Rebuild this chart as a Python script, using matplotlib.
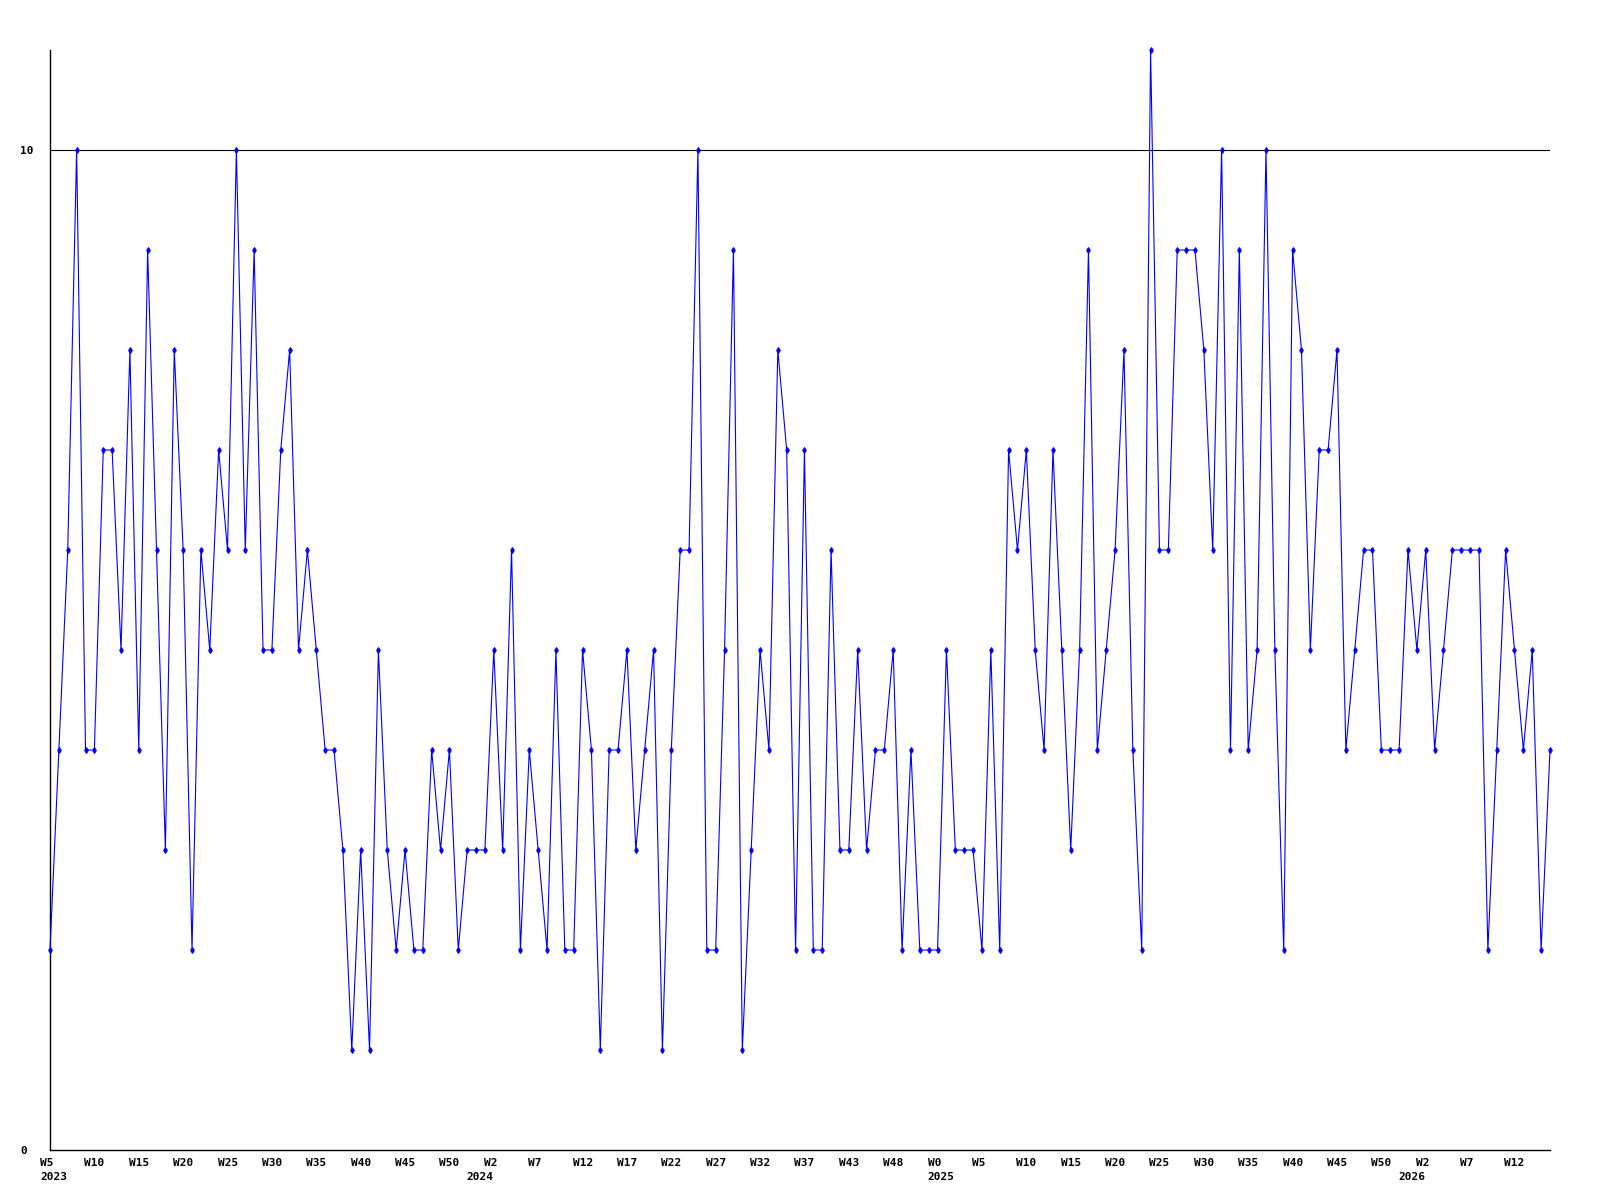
import matplotlib
matplotlib.use('Agg')
import matplotlib.pyplot as plt
import matplotlib.transforms as mtransforms

# weekly values, 2023 W5 .. 2026 W16
values = [
    2, 4, 6, 10, 4, 4, 7, 7, 5, 8, 4, 9, 6, 3, 8, 6, 2, 6, 5, 7, 6, 10,
    6, 9, 5, 5, 7, 8, 5, 6, 5, 4, 4, 3, 1, 3, 1, 5, 3, 2, 3, 2, 2,
    4, 3, 4, 2, 3, 3, 3, 5, 3, 6, 2, 4, 3, 2, 5, 2, 2, 5, 4, 1, 4, 4,
    5, 3, 4, 5, 1, 4, 6, 6, 10, 2, 2, 5, 9, 1, 3, 5, 4, 8, 7, 2, 7,
    2, 2, 6, 3, 3, 5, 3, 4, 4, 5, 2, 4, 2, 2, 2, 5, 3, 3, 3, 2, 5, 2,
    7, 6, 7, 5, 4, 7, 5, 3, 5, 9, 4, 5, 6, 8, 4, 2, 11, 6, 6, 9, 9,
    9, 8, 6, 10, 4, 9, 4, 5, 10, 5, 2, 9, 8, 5, 7, 7, 8, 4, 5, 6, 6,
    4, 4, 4, 6, 5, 6, 4, 5, 6, 6, 6, 6, 2, 4, 6, 5, 4, 5, 2, 4,
]

# labelled weeks (every 5th point)
week_labels = ['W5', 'W10', 'W15', 'W20', 'W25', 'W30', 'W35', 'W40', 'W45', 'W50',
               'W2', 'W7', 'W12', 'W17', 'W22', 'W27', 'W32', 'W37', 'W43', 'W48',
               'W0', 'W5', 'W10', 'W15', 'W20', 'W25', 'W30', 'W35', 'W40', 'W45', 'W50',
               'W2', 'W7', 'W12']
# year labels sit at the first week of each year
years = ['2023', '2024', '2025', '2026']
year_pos = [0, 48, 100, 153]

x = list(range(len(values)))

fig = plt.figure(figsize=(16, 12), dpi=100)
ax = fig.add_axes([50 / 1600, 50 / 1200, 1500 / 1600, 1100 / 1200])

ax.plot(x, values, color='#0000ff', linewidth=0.8, marker='d', markersize=3,
        markeredgewidth=0.8, clip_on=False, zorder=3)

ax.set_xlim(0, len(values) - 1)
ax.set_ylim(0, 11)

# Format axes.
for side in ['top', 'right']:
    ax.spines[side].set_visible(False)
for side in ['left', 'bottom']:
    ax.spines[side].set_color('black')
    ax.spines[side].set_linewidth(1.0)

ax.set_yticks([0, 10])
ax.set_yticklabels(['0', '10'], fontfamily='DejaVu Sans Mono', fontweight='bold',
                   fontsize=8, ha='left')
ax.axhline(10, color='black', linewidth=0.8, zorder=1)

ax.xaxis.remove_overlapping_locs = False
ticks = list(range(0, len(values), 5))
ax.set_xticks(ticks[:len(week_labels)])
ax.set_xticklabels(week_labels, fontfamily='DejaVu Sans Mono', fontweight='bold',
                   fontsize=8, ha='left')
ax.set_xticks(year_pos, minor=True)
ax.set_xticklabels(years, minor=True, fontfamily='DejaVu Sans Mono',
                   fontweight='bold', fontsize=8, ha='left')

ax.tick_params(axis='both', which='both', length=0)
ax.tick_params(axis='y', pad=21.5)
ax.tick_params(axis='x', which='major', pad=6)
ax.tick_params(axis='x', which='minor', pad=15.5)

offset = mtransforms.ScaledTranslation(-10 / 100, 0, fig.dpi_scale_trans)
for lab in ax.get_xticklabels() + ax.get_xticklabels(minor=True):
    lab.set_transform(lab.get_transform() + offset)

fig.savefig('out.png', dpi=100, facecolor='white')
